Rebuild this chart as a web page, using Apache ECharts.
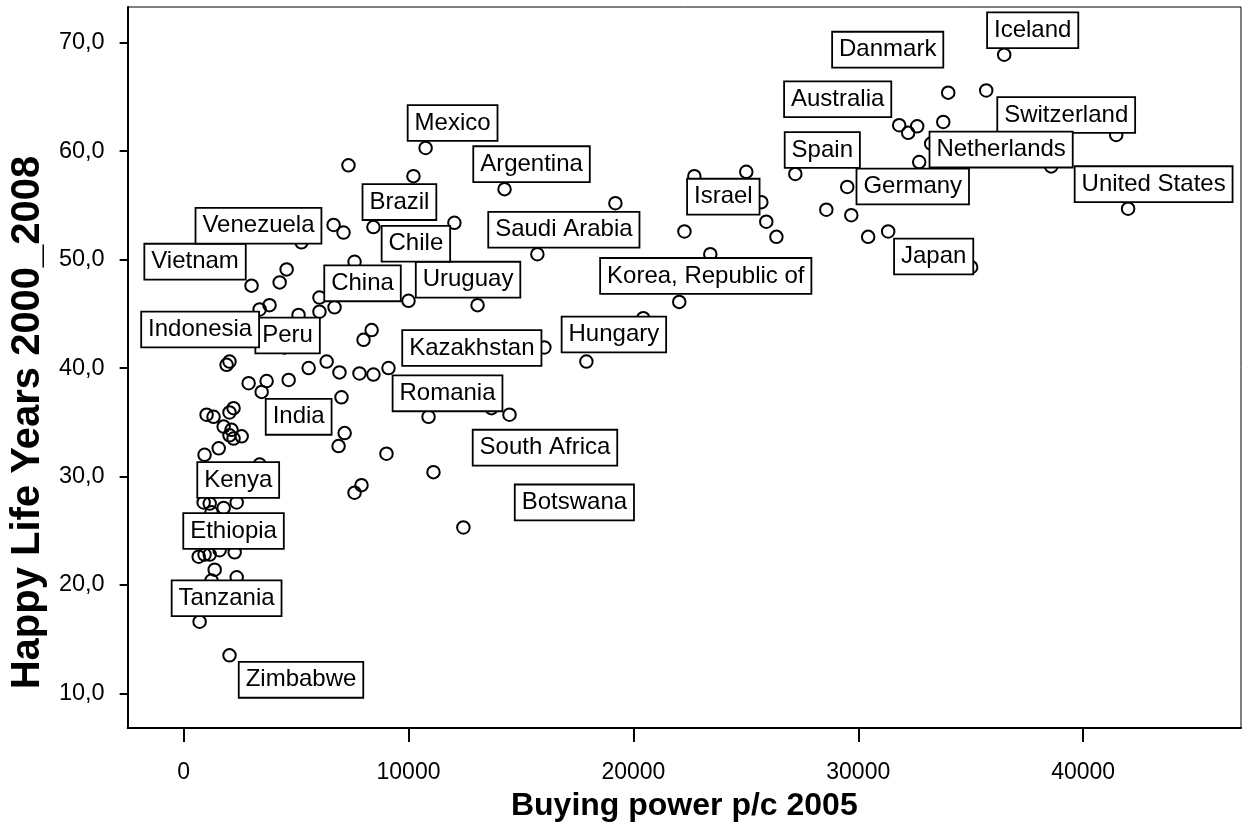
<!DOCTYPE html>
<html>
<head>
<meta charset="utf-8">
<script src="https://cdn.jsdelivr.net/npm/echarts@6/dist/echarts.min.js"></script>
<style>
html,body{margin:0;padding:0;background:#fff;}
#chart{width:1253px;height:829px;}
</style>
</head>
<body>
<div id="chart"></div>
<script>
// ---- data ----
const countryNames = [
  'Tanzania','Zimbabwe','','Ethiopia','','','','','','',
  '','Kenya','','','','','','','','',
  '','','','','','India','','','','',
  '','','','','','','','','','',
  '','','','','','','Botswana','Romania','','South Africa',
  'Kazakhstan','Hungary','','Korea, Republic of','Uruguay','','','','Peru','Indonesia',
  '','','','China','','Vietnam','','','','Venezuela',
  '','','Brazil','Chile','','','Mexico','Argentina','Saudi Arabia','',
  '','Israel','','','','','','Spain','','Germany',
  '','','Japan','Australia','','','','Danmark','Switzerland','Netherlands',
  '','Iceland','','','','United States'
];
const buyingPower = [
  710, 2040, 670, 930, 1160, 1600, 2270, 1380, 2360, 1240,
  890, 1160, 1780, 2360, 1240, 930, 1560, 3380, 1020, 1330,
  2220, 2040, 1780, 2130, 2040, 2580, 2220, 1910, 2040, 2890,
  3690, 3470, 4670, 5560, 6360, 6930, 7820, 8440, 9110, 7020,
  7160, 6890, 9020, 7910, 7600, 11110, 12440, 10890, 13690, 14490,
  16040, 17910, 20440, 22040, 13070, 10000, 8360, 8000, 4490, 3380,
  3820, 5110, 6040, 6710, 6040, 3020, 4270, 4580, 7600, 5240,
  6670, 7110, 8440, 12040, 7330, 10220, 10760, 14270, 15730, 19200,
  22270, 22710, 23420, 25020, 25690, 25910, 26360, 27200, 28580, 29510,
  29690, 30440, 31330, 31820, 32220, 32620, 33780, 34000, 35690, 33240,
  32710, 36490, 35020, 41470, 38580, 42000
];
const happyLifeYears = [
  16.6, 13.5, 22.6, 22.8, 22.8, 23.2, 23.0, 21.4, 20.7, 20.4,
  27.6, 27.5, 27.1, 27.6, 26.7, 32.0, 32.6, 31.1, 35.7, 35.5,
  36.3, 35.9, 34.6, 34.3, 33.8, 33.7, 33.5, 40.3, 40.6, 38.6,
  38.8, 37.8, 38.9, 40.0, 40.6, 39.6, 39.5, 39.4, 40.0, 37.3,
  34.0, 32.8, 32.1, 29.2, 28.5, 30.4, 25.3, 35.5, 36.3, 35.7,
  41.9, 40.6, 44.6, 46.1, 45.8, 46.2, 43.5, 42.6, 41.9, 45.4,
  45.8, 44.9, 45.2, 45.6, 46.5, 47.6, 47.9, 49.1, 49.8, 51.6,
  53.2, 52.5, 53.0, 53.4, 58.7, 57.7, 60.3, 56.5, 50.5, 55.2,
  52.6, 57.7, 50.5, 58.1, 55.3, 53.5, 52.1, 57.9, 54.6, 56.7,
  54.1, 52.1, 52.6, 62.4, 61.7, 62.3, 62.7, 65.4, 65.6, 60.7,
  59.0, 68.9, 49.3, 61.5, 58.6, 54.7
];
const xTickValues = [0, 10000, 20000, 30000, 40000];
const yTickValues = [10, 20, 30, 40, 50, 60, 70];

// ---- label placement (pixel offsets of each case label from its point) ----
const labelOffsets = {
  'Tanzania': [27, -23.5], 'Zimbabwe': [71.5, 24.5], 'Ethiopia': [29, -23.5],
  'Kenya': [28.5, -23.5], 'India': [57, -19.5], 'Botswana': [111, -25],
  'Romania': [19, -23.5], 'South Africa': [35.5, 33], 'Kazakhstan': [-72.5, 0.5],
  'Hungary': [27.5, -27], 'Korea, Republic of': [26.5, -26], 'Uruguay': [-9.5, -25.5],
  'Peru': [3, -12], 'Indonesia': [-59.5, 20], 'China': [28, -24],
  'Vietnam': [-56.5, -24], 'Venezuela': [-43, -16.5], 'Brazil': [26, -25],
  'Chile': [-38.5, 21], 'Mexico': [27, -25], 'Argentina': [27, -25],
  'Saudi Arabia': [26.5, -24.5], 'Israel': [29, 20.5], 'Spain': [27, -24],
  'Germany': [65.5, -0.5], 'Japan': [45.5, 25], 'Australia': [-61.5, -26],
  'Danmark': [-60.5, -43], 'Switzerland': [80, 24.5], 'Netherlands': [70, 6],
  'Iceland': [28.5, -24.5], 'United States': [25.5, -24.5]
};

const FONT = "'Liberation Sans', Arial, Helvetica, sans-serif";

const points = buyingPower.map((x, i) => {
  const name = countryNames[i];
  const item = { name: name, value: [x, happyLifeYears[i]] };
  if (name) {
    item.label = {
      show: true,
      formatter: name,
      position: 'inside',
      offset: labelOffsets[name] || [27, -25],
      color: '#000',
      opacity: 1,
      fontFamily: FONT,
      fontSize: 24,
      lineHeight: 24,
      backgroundColor: '#fff',
      borderColor: '#000',
      borderWidth: 1.8,
      padding: [5, 6, 5, 6]
    };
  }
  return item;
});

const chart = echarts.init(document.getElementById('chart'), null, { renderer: 'canvas' });
chart.setOption({
  animation: false,
  backgroundColor: '#fff',
  grid: {
    left: 126, top: 7, right: 12, bottom: 101,
    show: true, borderColor: '#000', borderWidth: 1, backgroundColor: 'transparent'
  },
  xAxis: {
    type: 'value',
    min: -2490, max: 47020,
    name: 'Buying power p/c 2005',
    nameLocation: 'middle',
    nameGap: 62,
    nameTextStyle: { fontFamily: FONT, fontSize: 32, fontWeight: 'bold', color: '#000' },
    axisLine: { show: true, onZero: false, lineStyle: { color: '#000', width: 2 } },
    axisTick: { show: true, customValues: xTickValues, length: 14, lineStyle: { color: '#000', width: 2 } },
    axisLabel: {
      customValues: xTickValues, margin: 33, fontFamily: FONT, fontSize: 23, color: '#000',
      formatter: v => String(Math.round(v))
    },
    splitLine: { show: false }
  },
  yAxis: {
    type: 'value',
    min: 6.8, max: 73.3,
    name: 'Happy Life Years 2000_2008',
    nameLocation: 'middle',
    nameGap: 77,
    nameTextStyle: { fontFamily: FONT, fontSize: 40, fontWeight: 'bold', color: '#000', padding: [0, 110, 0, 0] },
    axisLine: { show: true, onZero: false, lineStyle: { color: '#000', width: 2 } },
    axisTick: { show: true, customValues: yTickValues, length: 8, lineStyle: { color: '#000', width: 2 } },
    axisLabel: {
      customValues: yTickValues, margin: 23, fontFamily: FONT, fontSize: 23.5, color: '#000',
      formatter: v => Number(v).toFixed(1).replace('.', ',')
    },
    splitLine: { show: false }
  },
  series: [{
    type: 'scatter',
    data: points,
    symbol: 'circle',
    symbolSize: 12.5,
    itemStyle: { color: 'rgba(0,0,0,0)', borderColor: '#000', borderWidth: 2, opacity: 1 },
    emphasis: { disabled: true },
    silent: true
  }]
});
</script>
</body>
</html>
